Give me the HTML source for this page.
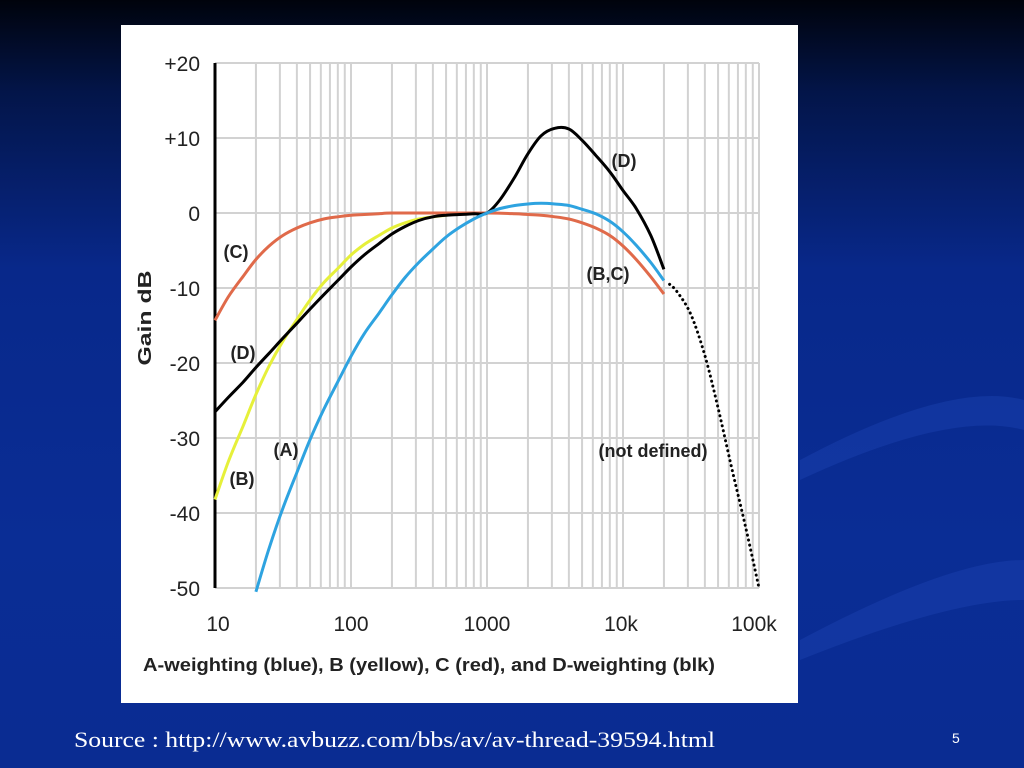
<!DOCTYPE html>
<html><head><meta charset="utf-8"><style>
html,body{margin:0;padding:0;width:1024px;height:768px;overflow:hidden}
body{background:linear-gradient(180deg,#00030c 0%,#031549 12%,#08288a 35%,#0a2d95 70%,#0a2c92 100%);font-family:"Liberation Sans",sans-serif;position:relative}
#panel{position:absolute;left:121px;top:25px;width:677px;height:678px;background:#fff}
#num{position:absolute;left:952px;top:730px;color:#fff;font-size:14px}
</style></head><body>
<svg width="1024" height="768" style="position:absolute;left:0;top:0">
<path d="M800 460 Q950 380 1024 400 L1024 430 Q950 410 800 480Z" fill="#1a3fae" opacity="0.5"/>
<path d="M800 640 Q950 560 1024 560 L1024 600 Q950 600 800 660Z" fill="#1a3fae" opacity="0.5"/>
</svg>
<div id="panel"></div>
<svg id="chart" width="1024" height="768" style="position:absolute;left:0;top:0">
<text x="74" y="747" fill="#fff" font-family="Liberation Serif, serif" font-size="22" textLength="641" lengthAdjust="spacingAndGlyphs">Source : http://www.avbuzz.com/bbs/av/av-thread-39594.html</text>
</svg>
<div id="num">5</div>
<script>
const yTicks=[20,10,0,-10,-20,-30,-40,-50];
const yTickLabels=["+20","+10","0","-10","-20","-30","-40","-50"];
const xTicks=[10,100,1000,10000,100000];
const xTickLabels=["10","100","1000","10k","100k"];
const freqA=[20,25,31.5,40,50,63,80,100,125,160,200,250,315,400,500,630,800,1000,1250,1600,2000,2500,3150,4000,5000,6300,8000,10000,12500,16000,20000];
const gainA=[-50.5,-44.7,-39.4,-34.6,-30.2,-26.2,-22.5,-19.1,-16.1,-13.4,-10.9,-8.6,-6.6,-4.8,-3.2,-1.9,-0.8,0,0.6,1.0,1.2,1.3,1.2,1.0,0.5,-0.1,-1.1,-2.5,-4.3,-6.6,-9.0];
const freqB=[10,12.5,16,20,25,31.5,40,50,63,80,100,125,160,200,250,315,400,500,630,800,1000];
const gainB=[-38.2,-33.2,-28.5,-24.2,-20.4,-17.1,-14.2,-11.6,-9.3,-7.4,-5.6,-4.2,-3.0,-2.0,-1.3,-0.8,-0.5,-0.3,-0.1,0,0];
const freqC=[10,12.5,16,20,25,31.5,40,50,63,80,100,125,160,200,400,1000,1600,2000,2500,3150,4000,5000,6300,8000,10000,12500,16000,20000];
const gainC=[-14.3,-11.2,-8.5,-6.2,-4.4,-3.0,-2.0,-1.3,-0.8,-0.5,-0.3,-0.2,-0.1,0,0,0,-0.1,-0.2,-0.3,-0.5,-0.8,-1.3,-2.0,-3.0,-4.4,-6.2,-8.5,-10.8];
const freqD=[10,12.5,16,20,25,31.5,40,50,63,80,100,125,160,200,250,315,400,500,630,800,1000,1250,1600,2000,2500,3150,4000,5000,6300,8000,10000,12500,16000,20000];
const gainD=[-26.5,-24.6,-22.6,-20.6,-18.7,-16.7,-14.7,-12.8,-10.9,-9.0,-7.2,-5.6,-4.1,-2.8,-1.8,-1.0,-0.5,-0.3,-0.2,-0.1,0,1.8,4.8,7.9,10.3,11.3,11.2,9.7,7.7,5.5,3.0,0.6,-3.0,-7.5];
const freqX=[22000,25000,31500,40000,50000,63000,80000,100000];
const gainX=[-9.5,-10.5,-13.5,-19,-26,-34,-42,-50];
const NS="http://www.w3.org/2000/svg";
const svg=document.getElementById('chart');
const X0=215,DEC=136,Y0=213,PER10=75;
const xs=f=>X0+Math.log10(f/10)*DEC;
const ys=g=>Y0-g/10*PER10;
function mk(tag,attrs,parent){const e=document.createElementNS(NS,tag);for(const k in attrs)e.setAttribute(k,attrs[k]);(parent||svg).appendChild(e);return e;}
const grid=mk('g',{});


for(let d=10;d<=10000;d*=10){for(let m=1;m<=10;m++){if(m===1&&d>10)continue;const x=xs(d*m);
const l=mk('line',{x1:x,x2:x,y1:ys(20),y2:ys(-50),stroke:'#d2d2d2','stroke-width':2},grid);

}}
yTicks.forEach((t,i)=>{const l=mk('line',{x1:X0,x2:xs(100000),y1:ys(t),y2:ys(t),stroke:'#d2d2d2','stroke-width':2},grid);


const tx=mk('text',{x:200,y:ys(t)+8,'text-anchor':'end','font-size':21,fill:'#222'});tx.textContent=yTickLabels[i];

});
xTicks.forEach((t,i)=>{const tx=mk('text',{x:xs(t)+(i===0?3:i===3?-2:i===4?-5:0),y:631,'text-anchor':'middle','font-size':21,fill:'#222'});tx.textContent=xTickLabels[i];

});
const ax=mk('line',{x1:X0,x2:X0,y1:ys(20),y2:ys(-50),stroke:'#000','stroke-width':3});


function curve(fr,g,color,name,dash){
const P=fr.map((f,i)=>[xs(f),ys(g[i])]);
let d='M'+P[0][0].toFixed(1)+' '+P[0][1].toFixed(1);
for(let i=0;i<P.length-1;i++){const p0=P[i-1]||P[i],p1=P[i],p2=P[i+1],p3=P[i+2]||P[i+1];
const c1=[p1[0]+(p2[0]-p0[0])/6,p1[1]+(p2[1]-p0[1])/6],c2=[p2[0]-(p3[0]-p1[0])/6,p2[1]-(p3[1]-p1[1])/6];
d+=' C'+c1.map(v=>v.toFixed(1)).join(' ')+' '+c2.map(v=>v.toFixed(1)).join(' ')+' '+p2.map(v=>v.toFixed(1)).join(' ');}
const p=mk('path',{d:d,fill:'none',stroke:color,'stroke-width':3,'stroke-linejoin':'round','stroke-linecap':dash?'round':'butt'});
if(dash)p.setAttribute('stroke-dasharray','0.1 5');

}
curve(freqB,gainB,'#e6f03a','b-weighting-curve');
curve(freqC,gainC,'#e06a4a','c-weighting-curve');
curve(freqD,gainD,'#000','d-weighting-curve');
curve(freqA,gainA,'#2ea3e0','a-weighting-curve');
curve(freqX,gainX,'#000','undefined-extension-curve',true);
const labels=[["(C)",236,258],["(D)",243,359],["(A)",286,456],["(B)",242,485],["(D)",624,167],["(B,C)",608,280],["(not defined)",653,457]];
labels.forEach(l=>{const t=mk('text',{x:l[1],y:l[2],'text-anchor':'middle','font-size':18,'font-weight':'bold',fill:'#222'});t.textContent=l[0];

});
const yt=mk('text',{x:0,y:0,transform:'translate(151 318) rotate(-90)','text-anchor':'middle','font-size':18,'font-weight':'bold',fill:'#222',textLength:95,lengthAdjust:'spacingAndGlyphs'});yt.textContent='Gain dB';


const xt=mk('text',{x:143,y:671,'font-size':18,'font-weight':'bold',fill:'#222',textLength:572,lengthAdjust:'spacingAndGlyphs'});xt.textContent='A-weighting (blue), B (yellow), C (red), and D-weighting (blk)';


</script>
</body></html>
